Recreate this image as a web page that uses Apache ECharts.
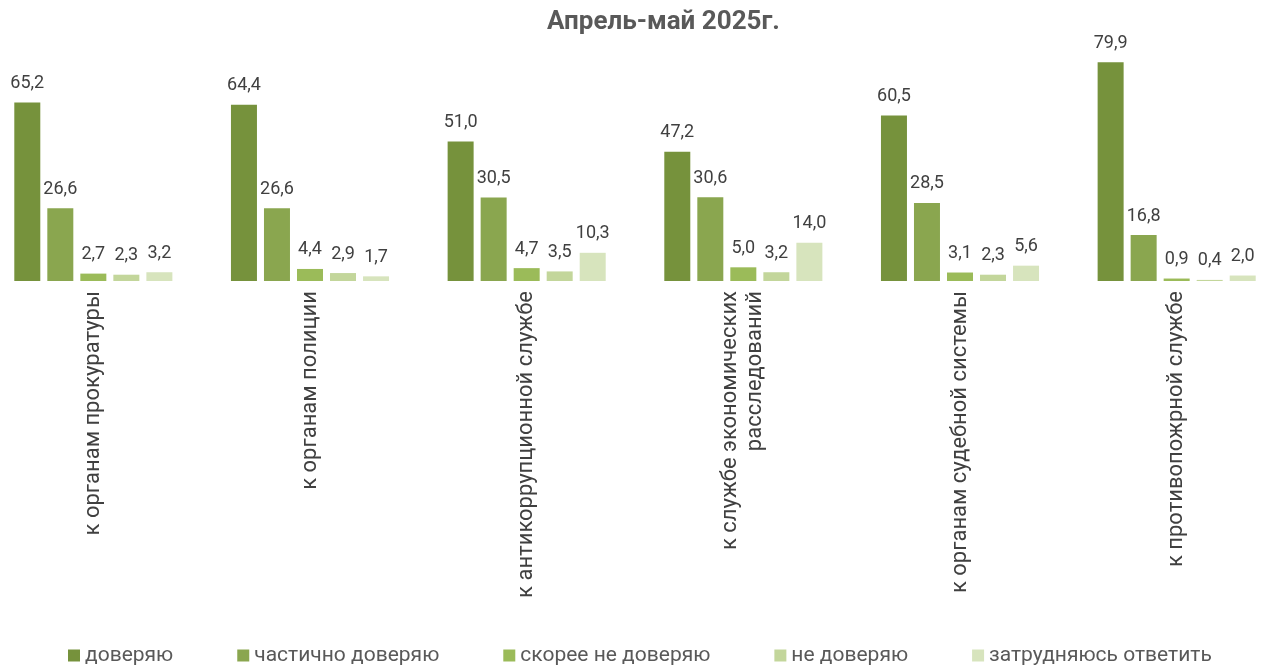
<!DOCTYPE html>
<html><head><meta charset="utf-8">
<script src="https://cdn.jsdelivr.net/npm/echarts@6/dist/echarts.min.js"></script>
<style>html,body{margin:0;padding:0;background:#fff;overflow:hidden;width:1264px;height:666px}#c{position:absolute;left:-15px;top:0;width:1300px;height:666px}</style>
</head><body><div id="c"></div>
<script>
const categories = ['к органам прокуратуры','к органам полиции','к антикоррупционной службе','к службе экономических\nрасследований','к органам судебной системы','к противопожрной службе'];
const seriesNames = ['доверяю','частично доверяю','скорее не доверяю','не доверяю','затрудняюсь ответить'];
const trust = [65.2, 64.4, 51.0, 47.2, 60.5, 79.9];
const partlyTrust = [26.6, 26.6, 30.5, 30.6, 28.5, 16.8];
const ratherNot = [2.7, 4.4, 4.7, 5.0, 3.1, 0.9];
const noTrust = [2.3, 2.9, 3.5, 3.2, 2.3, 0.4];
const hardToSay = [3.2, 1.7, 10.3, 14.0, 5.6, 2.0];
const colors = ['#76923C','#8AA64F','#9BBB59','#C3D69B','#D7E4BD'];
const values = [trust, partlyTrust, ratherNot, noTrust, hardToSay];
const chart = echarts.init(document.getElementById('c'));
chart.setOption({
  animation:false,
  textStyle:{fontFamily:'Roboto'},
  title:{text:'Апрель-май 2025г.',left:557,top:4,textStyle:{fontSize:26,fontWeight:'bold',color:'#595959',fontFamily:'Roboto'}},
  legend:{top:645,left:83,padding:0,itemWidth:12,itemHeight:12,itemGap:64,icon:'rect',
    textStyle:{fontSize:21,color:'#595959',fontFamily:'Roboto'}},
  grid:{left:0,right:0,top:62,bottom:385,containLabel:false},
  xAxis:{type:'category',data:categories,axisLine:{show:false},axisTick:{show:false},
    axisLabel:{rotate:90,margin:10,fontSize:22,color:'#404040',fontFamily:'Roboto',lineHeight:25,interval:0}},
  yAxis:{type:'value',min:0,max:80,show:false,splitLine:{show:false}},
  series: values.map((d,i)=>({name:seriesNames[i],type:'bar',data:d,barWidth:26,barGap:'27%',
    itemStyle:{color:colors[i]},
    label:{show:true,position:'top',distance:10,fontSize:18,color:'#404040',fontFamily:'Roboto',
      formatter:p=>p.value.toFixed(1).replace('.',',')}}))
});
</script></body></html>
